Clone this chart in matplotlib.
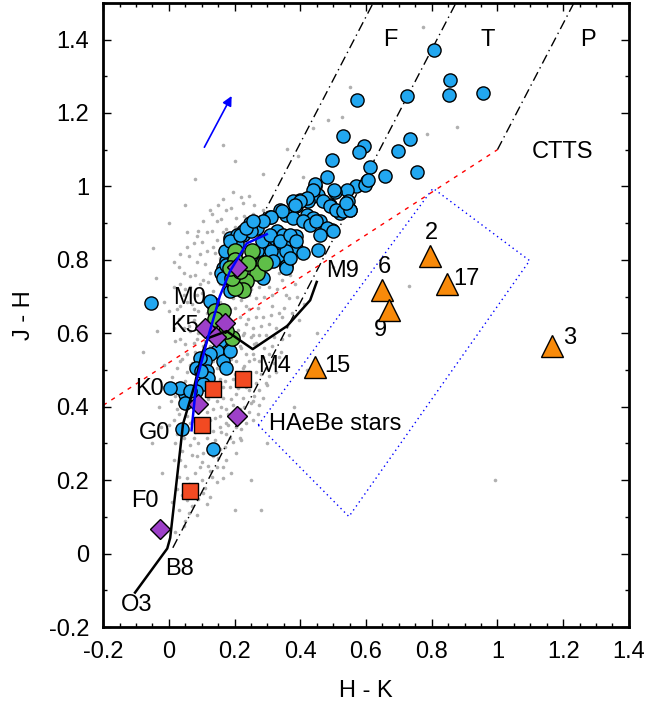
import matplotlib
matplotlib.use("Agg")
import matplotlib.pyplot as plt
from matplotlib.ticker import MultipleLocator, FuncFormatter

plt.rcParams['font.family'] = ['Liberation Sans', 'DejaVu Sans']

# field stars (grey dots)
field_stars = [
    (0.02, 0.06), (0.05, 0.09), (0.03, 0.12), (0.07, 0.13), (0.04, 0.16), (0.09, 0.15),
    (0.06, 0.19), (0.11, 0.18), (0.03, 0.21), (0.08, 0.22), (0.13, 0.21), (0.05, 0.24),
    (0.10, 0.25), (0.15, 0.26), (0.07, 0.27), (0.12, 0.29), (0.04, 0.28), (0.09, 0.30),
    (0.14, 0.31), (0.17, 0.29), (-0.02, 0.22), (0.01, 0.14), (0.19, 0.22), (0.22, 0.31),
    (0.06, 0.11), (0.10, 0.20), (0.12, 0.24), (0.16, 0.33), (0.02, 0.30), (0.08, 0.33),
    (0.05, 0.33), (0.11, 0.34), (0.18, 0.35), (0.07, 0.36), (0.14, 0.37), (0.21, 0.37),
    (0.03, 0.38), (0.09, 0.39), (0.16, 0.40), (0.23, 0.40), (0.06, 0.41), (0.12, 0.42),
    (0.19, 0.42), (0.26, 0.43), (0.02, 0.43), (0.08, 0.44), (0.15, 0.45), (0.21, 0.45),
    (0.11, 0.46), (0.17, 0.47), (0.24, 0.47), (0.05, 0.47), (0.13, 0.48), (0.20, 0.49),
    (0.28, 0.49), (0.09, 0.50), (0.16, 0.51), (0.23, 0.51), (0.07, 0.52), (0.19, 0.53),
    (0.26, 0.53), (0.12, 0.54), (0.14, 0.44), (0.18, 0.38), (0.10, 0.36), (0.25, 0.41),
    (0.30, 0.46), (-0.03, 0.40), (0.00, 0.35), (0.01, 0.48), (0.22, 0.34), (0.27, 0.38),
    (0.32, 0.52), (0.04, 0.53),
    (0.08, 0.55), (0.15, 0.56), (0.22, 0.56), (0.29, 0.56), (0.05, 0.57), (0.11, 0.58),
    (0.18, 0.58), (0.25, 0.59), (0.32, 0.59), (0.09, 0.60), (0.14, 0.61), (0.21, 0.61),
    (0.28, 0.62), (0.06, 0.62), (0.12, 0.63), (0.17, 0.64), (0.24, 0.64), (0.31, 0.65),
    (0.03, 0.64), (0.09, 0.66), (0.15, 0.66), (0.20, 0.67), (0.27, 0.67), (0.35, 0.67),
    (0.07, 0.68), (0.13, 0.69), (0.22, 0.69), (0.29, 0.70), (0.10, 0.71), (0.17, 0.71),
    (0.25, 0.72), (0.33, 0.72), (0.02, 0.58), (0.36, 0.62), (0.19, 0.55), (0.26, 0.57),
    (0.00, 0.66), (0.39, 0.70), (0.34, 0.55), (0.23, 0.60),
    (0.05, 0.72), (0.12, 0.74), (0.19, 0.74), (0.27, 0.75), (0.08, 0.76), (0.15, 0.77),
    (0.23, 0.77), (0.31, 0.78), (0.11, 0.79), (0.18, 0.80), (0.26, 0.80), (0.06, 0.81),
    (0.14, 0.82), (0.21, 0.83), (0.29, 0.83), (0.10, 0.85), (0.17, 0.86), (0.24, 0.86),
    (0.13, 0.88), (0.20, 0.89), (0.27, 0.90), (0.16, 0.91), (0.23, 0.92), (0.19, 0.94),
    (0.26, 0.95), (0.03, 0.78), (0.09, 0.88), (0.34, 0.81), (0.30, 0.93), (0.22, 0.97),
    (0.15, 0.95), (0.37, 0.76),
    (0.045, 0.075), (0.085, 0.105), (0.115, 0.135), (0.025, 0.175), (0.075, 0.165),
    (0.125, 0.155), (0.055, 0.205), (0.095, 0.235), (0.145, 0.235), (0.165, 0.205),
    (0.035, 0.255), (0.065, 0.295), (0.105, 0.275), (0.135, 0.265), (0.175, 0.255),
    (0.185, 0.315), (0.115, 0.315), (0.045, 0.315), (0.155, 0.285), (0.205, 0.275),
    (0.035, 0.345), (0.065, 0.355), (0.095, 0.345), (0.125, 0.365), (0.155, 0.345),
    (0.195, 0.365), (0.215, 0.395), (0.175, 0.395), (0.135, 0.395), (0.105, 0.405),
    (0.075, 0.395), (0.045, 0.415), (0.025, 0.395), (0.095, 0.425), (0.165, 0.425),
    (0.225, 0.425), (0.245, 0.445), (0.185, 0.455), (0.125, 0.445), (0.065, 0.455),
    (0.035, 0.465), (0.095, 0.475), (0.155, 0.475), (0.215, 0.475), (0.265, 0.465),
    (0.285, 0.425), (0.115, 0.495), (0.175, 0.495), (0.245, 0.495), (0.055, 0.495),
    (0.025, 0.505), (0.295, 0.505), (0.225, 0.375), (0.245, 0.385),
    (0.135, 0.525), (0.205, 0.525), (0.275, 0.525), (0.095, 0.535), (0.055, 0.545),
    (0.165, 0.545), (0.235, 0.545), (0.305, 0.545), (0.125, 0.565), (0.195, 0.575),
    (0.265, 0.575), (0.075, 0.575), (0.035, 0.585), (0.155, 0.595), (0.225, 0.595),
    (0.295, 0.595), (0.105, 0.615), (0.185, 0.615), (0.255, 0.615), (0.325, 0.615),
    (0.045, 0.615), (0.075, 0.635), (0.145, 0.635), (0.215, 0.645), (0.285, 0.645),
    (0.345, 0.645), (0.025, 0.665), (0.115, 0.655), (0.185, 0.665), (0.245, 0.665),
    (0.315, 0.675), (0.055, 0.685), (0.155, 0.685), (0.215, 0.705), (0.265, 0.695),
    (0.085, 0.705), (0.135, 0.715), (0.195, 0.725), (0.305, 0.725), (0.365, 0.695),
    (0.035, 0.735), (0.095, 0.735), (0.165, 0.745), (0.225, 0.745), (0.295, 0.755),
    (0.065, 0.755), (0.125, 0.765), (0.205, 0.775), (0.255, 0.785), (0.325, 0.795),
    (0.085, 0.795), (0.155, 0.805), (0.235, 0.805), (0.035, 0.815), (0.115, 0.825),
    (0.185, 0.835), (0.255, 0.835), (0.075, 0.845), (0.145, 0.855), (0.205, 0.865),
    (0.275, 0.875), (0.115, 0.875), (0.175, 0.885), (0.235, 0.895), (0.145, 0.905),
    (0.205, 0.915), (0.255, 0.925), (0.175, 0.935), (0.225, 0.955), (0.125, 0.935),
    (0.015, 0.255), (0.085, 0.265), (0.125, 0.225), (0.165, 0.235), (0.145, 0.195),
    (0.105, 0.165), (0.055, 0.145), (0.135, 0.335), (0.175, 0.325), (0.205, 0.345),
    (0.235, 0.355), (0.255, 0.365), (0.275, 0.405), (0.235, 0.455), (0.255, 0.415),
    (0.195, 0.405), (0.145, 0.415), (0.205, 0.435), (0.275, 0.445), (0.305, 0.485),
    (0.265, 0.495), (0.225, 0.505), (0.185, 0.515), (0.145, 0.505), (0.255, 0.545),
    (0.285, 0.535), (0.315, 0.565), (0.345, 0.585), (0.335, 0.535), (0.305, 0.625),
    (0.335, 0.655), (0.355, 0.705), (0.375, 0.655), (0.385, 0.735), (0.345, 0.745),
    (0.315, 0.705), (0.275, 0.725), (0.245, 0.705), (0.235, 0.675), (0.265, 0.645),
    (0.255, 0.595), (0.205, 0.595), (0.235, 0.625), (0.165, 0.575), (0.135, 0.595),
    (0.105, 0.565), (0.085, 0.585), (0.065, 0.605), (0.015, 0.615), (0.035, 0.675),
    (0.075, 0.665), (0.045, 0.705), (0.015, 0.725), (0.065, 0.725), (0.105, 0.745),
    (0.045, 0.765), (0.015, 0.795), (0.055, 0.835), (0.095, 0.815), (0.085, 0.865),
    (0.055, 0.875), (0.105, 0.905), (0.135, 0.835), (-0.015, 0.515), (-0.015, 0.455),
    (0.005, 0.415), (-0.025, 0.345), (0.015, 0.365), (-0.035, 0.605), (-0.015, 0.685),
    (0.285, 0.775), (0.305, 0.815), (0.275, 0.805), (0.245, 0.755), (0.335, 0.765),
    (0.315, 0.845), (0.285, 0.935), (0.245, 0.975), (0.195, 0.985), (0.165, 0.875),
    (0.185, 0.775), (0.225, 0.805), (0.205, 0.805), (0.155, 0.735), (0.195, 0.695),
    (0.175, 0.625), (0.215, 0.565), (0.275, 0.595), (0.365, 0.595), (0.395, 0.635),
    (0.41, 0.68), (0.195, 0.305), (0.215, 0.315), (0.175, 0.355), (0.075, 0.315),
    (0.025, 0.325), (0.155, 0.375), (0.115, 0.385), (0.055, 0.375), (0.085, 0.465),
    (0.045, 0.445), (0.195, 0.475), (0.125, 0.465), (0.165, 0.455), (0.035, 0.525),
    (0.065, 0.515), (0.105, 0.525), (0.245, 0.525), (0.295, 0.465), (0.325, 0.495),
    (-0.05, 0.30), (-0.08, 0.55), (-0.04, 0.75), (0.00, 0.90), (0.05, 0.95), (0.08, 1.02),
    (0.164, 1.114), (0.20, 1.07), (0.286, 1.035), (0.359, 1.103), (0.392, 1.082),
    (0.438, 1.158), (0.484, 1.182), (0.526, 1.19), (0.408, 1.027), (0.164, 0.967),
    (0.131, 0.924), (-0.049, 0.832), (0.55, 1.27), (0.773, 1.435), (0.785, 1.144),
    (0.876, 1.163), (0.50, 0.78), (0.45, 0.60), (0.42, 0.50), (0.38, 0.40), (0.30, 0.30),
    (0.25, 0.20), (0.20, 0.12), (0.28, 0.12), (0.73, 0.728), (0.992, 0.201),
]

# blue circles
blue_x = [0.807, 0.857, 0.853, 0.956, 0.725, 0.574, 0.530, 0.733, 0.698, 0.594, 0.579,
          0.611, 0.755, 0.657, 0.498, 0.603, 0.571, 0.541, 0.505, 0.545, 0.551, 0.520,
          0.490, 0.495, 0.480, 0.502, 0.444, 0.454, 0.439, 0.596, 0.606, 0.424, 0.398,
          0.378, 0.388, 0.469, 0.490, 0.510, 0.530, 0.551, 0.540, 0.338, 0.307, 0.358,
          0.378, 0.419, 0.439, 0.459, 0.409, 0.429, 0.267, 0.226, 0.246, 0.328, 0.348,
          0.368, 0.388, 0.317, 0.338, 0.368, 0.388, 0.409, 0.297, 0.317, 0.338, 0.358,
          0.454, 0.358, 0.186, 0.206, 0.175, 0.165, 0.160, 0.277, 0.297, 0.312, 0.317,
          0.267, 0.282, 0.444, 0.439, 0.419, 0.398, 0.383, 0.343, 0.312, 0.287, 0.246,
          0.226, 0.206, 0.251, 0.449, 0.480, 0.500, 0.459, -0.053, 0.130, 0.165, 0.175,
          0.170, 0.186, 0.216, 0.236, 0.257, 0.186, 0.196, 0.287, 0.358, 0.368, 0.307,
          0.338, 0.368, 0.388, 0.155, 0.145, 0.165, 0.175, 0.125, 0.110, 0.115, 0.120,
          0.104, 0.084, 0.049, 0.033, 0.003, 0.186, 0.064, 0.049, 0.039, 0.135, 0.094,
          0.084, 0.099, 0.125]
blue_y = [1.371, 1.290, 1.249, 1.254, 1.246, 1.236, 1.138, 1.129, 1.097, 1.111, 1.093,
          1.052, 1.038, 1.029, 1.071, 1.014, 1.002, 0.991, 0.986, 0.959, 0.937, 0.927,
          0.950, 0.882, 1.027, 0.989, 1.000, 0.977, 0.973, 1.005, 1.018, 0.959, 0.964,
          0.959, 0.946, 0.959, 0.946, 0.937, 0.932, 0.937, 0.955, 0.937, 0.918, 0.923,
          0.914, 0.923, 0.914, 0.905, 0.905, 0.896, 0.887, 0.878, 0.891, 0.878, 0.869,
          0.860, 0.864, 0.851, 0.842, 0.842, 0.832, 0.819, 0.832, 0.814, 0.814, 0.823,
          0.828, 0.783, 0.860, 0.869, 0.796, 0.778, 0.764, 0.796, 0.805, 0.823, 0.796,
          0.823, 0.851, 1.006, 0.991, 0.968, 0.959, 0.950, 0.932, 0.918, 0.905, 0.900,
          0.869, 0.842, 0.878, 0.905, 0.887, 0.878, 0.869, 0.683, 0.683, 0.751, 0.787,
          0.823, 0.851, 0.869, 0.887, 0.905, 0.715, 0.733, 0.751, 0.778, 0.805, 0.869,
          0.851, 0.869, 0.851, 0.579, 0.552, 0.524, 0.506, 0.543, 0.524, 0.497, 0.479,
          0.461, 0.443, 0.434, 0.452, 0.452, 0.552, 0.443, 0.411, 0.339, 0.285, 0.533,
          0.506, 0.497, 0.688]

# green circles
green_x = [0.201, 0.252, 0.287, 0.267, 0.236, 0.226, 0.201, 0.191, 0.216, 0.201, 0.241,
           0.186, 0.140, 0.165, 0.140, 0.191, 0.175, 0.292]
green_y = [0.823, 0.823, 0.792, 0.764, 0.742, 0.719, 0.724, 0.751, 0.769, 0.801, 0.792,
           0.778, 0.660, 0.660, 0.638, 0.588, 0.606, 0.792]

# purple diamonds
diamond_x = [0.207, 0.110, 0.170, 0.143, 0.088, 0.207, -0.027]
diamond_y = [0.780, 0.614, 0.628, 0.590, 0.408, 0.375, 0.068]

# red squares
square_x = [0.134, 0.225, 0.100, 0.064]
square_y = [0.448, 0.476, 0.351, 0.171]

# numbered orange triangles
tri_ids = ['2', '17', '6', '9', '3', '15']
tri_x = [0.794, 0.846, 0.648, 0.669, 1.165, 0.444]
tri_y = [0.810, 0.734, 0.717, 0.663, 0.565, 0.508]

# dwarf locus (black) and giant locus (blue)
dwarf_hk = [-0.103, -0.005, 0.004, 0.034, 0.043, 0.079, 0.100, 0.119, 0.176, 0.255, 0.36, 0.43, 0.45]
dwarf_jh = [-0.106, 0.014, 0.043, 0.280, 0.353, 0.462, 0.543, 0.587, 0.606, 0.557, 0.62, 0.69, 0.74]
giant_hk = [0.069, 0.084, 0.116, 0.155, 0.186, 0.237, 0.298]
giant_jh = [0.336, 0.470, 0.579, 0.701, 0.769, 0.845, 0.870]

# reddening lines, CTTS locus, HAeBe box
redd_lines = [((0.25, 0.86), (0.622, 1.5)),
              ((0.012, 0.016), (0.874, 1.5)),
              ((1.0, 1.1), (1.233, 1.5))]
ctts_hk = [-0.2, 1.0]
ctts_jh = [0.404, 1.1]
haebe_hk = [0.272, 0.804, 1.098, 0.548, 0.272]
haebe_jh = [0.350, 0.995, 0.798, 0.101, 0.350]

spt_labels = [('M0', 0.064, 0.696), ('K5', 0.049, 0.620), ('K0', -0.058, 0.448),
              ('G0', -0.043, 0.329), ('F0', -0.073, 0.144), ('B8', 0.033, -0.041),
              ('O3', -0.097, -0.141), ('M4', 0.322, 0.511), ('M9', 0.529, 0.769)]
tri_offsets = [(1, 17), (14, 4), (2, 17), (-6, -14), (13, 6), (16, 1)]

FS = 17

fig = plt.figure(figsize=(6.53, 7.07), dpi=100)
ax = fig.add_axes([0.158, 0.113, 0.805, 0.883])

gx = [p[0] for p in field_stars]
gy = [p[1] for p in field_stars]
ax.plot(gx, gy, 'o', ms=2.6, color='#b0b0b0', mec='none', zorder=1)

for (x0, y0), (x1, y1) in redd_lines:
    ax.plot([x0, x1], [y0, y1], color='black', lw=1, ls=(0, (7, 3, 1, 3)), zorder=2)
ax.plot(ctts_hk, ctts_jh, color='red', lw=1, ls=(0, (3, 4)), zorder=2)
ax.plot(haebe_hk, haebe_jh, color='blue', lw=1, ls=(0, (1, 2.5)), zorder=2)

ax.plot(blue_x, blue_y, 'o', ms=9.5, color='#22a7f0', mec='black', mew=1, zorder=3)
ax.plot(green_x, green_y, 'o', ms=11, color='#5fbf48', mec='black', mew=1, zorder=4)
ax.plot(diamond_x, diamond_y, 'D', ms=10.5, color='#9d40c8', mec='black', mew=1, zorder=5)
ax.plot(square_x, square_y, 's', ms=11, color='#f24a22', mec='black', mew=1, zorder=5)

ax.plot(dwarf_hk, dwarf_jh, color='black', lw=1.8, zorder=6)
ax.plot(giant_hk, giant_jh, color='blue', lw=1.8, zorder=6)

ax.plot(tri_x, tri_y, '^', ms=15.5, color='#f88a0a', mec='black', mew=1, zorder=7)
for name, x, y, off in zip(tri_ids, tri_x, tri_y, tri_offsets):
    ax.annotate(name, (x, y), xytext=off, textcoords='offset points',
                ha='center', va='center', fontsize=FS)

for name, x, y in spt_labels:
    ax.text(x, y, name, ha='center', va='center', fontsize=FS)

ax.text(0.673, 1.40, 'F', ha='center', va='center', fontsize=FS)
ax.text(0.971, 1.40, 'T', ha='center', va='center', fontsize=FS)
ax.text(1.275, 1.40, 'P', ha='center', va='center', fontsize=FS)
ax.text(1.199, 1.095, 'CTTS', ha='center', va='center', fontsize=FS)
ax.text(0.506, 0.353, 'HAeBe stars', ha='center', va='center', fontsize=FS)

ax.annotate('', xy=(0.195, 1.253), xytext=(0.104, 1.10),
            arrowprops=dict(arrowstyle='-|>', color='blue', lw=1.2, mutation_scale=14))

ax.set_xlim(-0.2, 1.4)
ax.set_ylim(-0.2, 1.5)
ax.xaxis.set_major_locator(MultipleLocator(0.2))
ax.xaxis.set_minor_locator(MultipleLocator(0.05))
ax.yaxis.set_major_locator(MultipleLocator(0.2))
ax.yaxis.set_minor_locator(MultipleLocator(0.1))
fmt = FuncFormatter(lambda v, p: '%g' % round(v, 2))
ax.xaxis.set_major_formatter(fmt)
ax.yaxis.set_major_formatter(fmt)
ax.tick_params(which='both', direction='in', top=True, right=True, labelsize=FS)
ax.tick_params(which='major', length=6, width=1)
ax.tick_params(which='minor', length=3, width=1)
ax.tick_params(axis='x', pad=10)
ax.tick_params(axis='y', pad=10)
for s in ax.spines.values():
    s.set_linewidth(2)

ax.set_xlabel('H - K', fontsize=FS, labelpad=12)
ax.set_ylabel('J - H', fontsize=FS, labelpad=10)

fig.savefig('out.png', dpi=100)
